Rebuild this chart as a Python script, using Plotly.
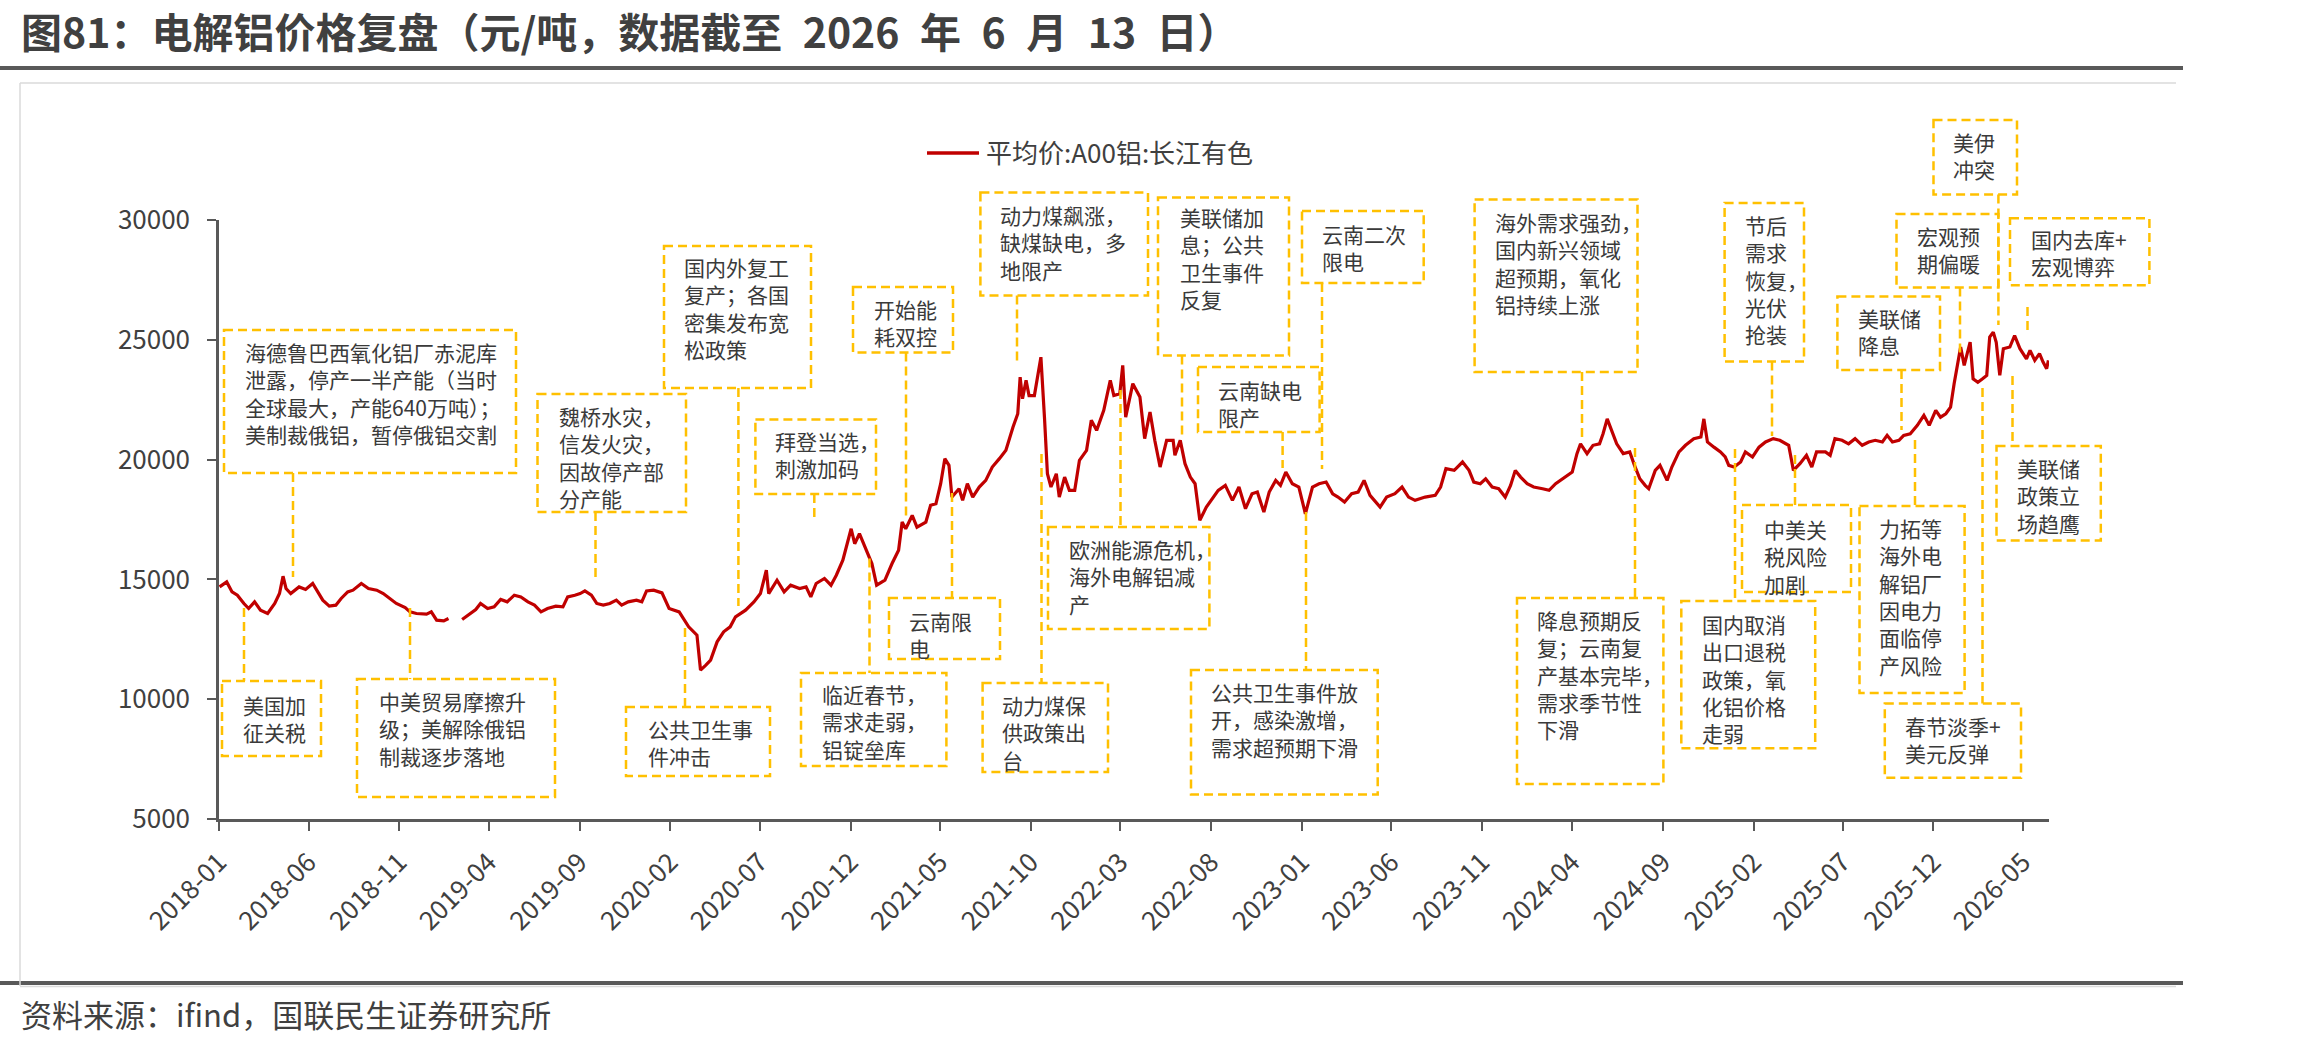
import plotly.graph_objects as go

# ---------------- data ----------------
dates = [
    "2018-01-02", "2018-01-14", "2018-01-23", "2018-02-01", "2018-02-12", "2018-02-20",
    "2018-03-02", "2018-03-12", "2018-03-24", "2018-04-05", "2018-04-13", "2018-04-19",
    "2018-04-24", "2018-05-02", "2018-05-16", "2018-05-27", "2018-06-08", "2018-06-16",
    "2018-06-25", "2018-07-06", "2018-07-17", "2018-07-26", "2018-08-06", "2018-08-15",
    "2018-08-29", "2018-09-10", "2018-09-24", "2018-10-05", "2018-10-16", "2018-10-27",
    "2018-11-11", "2018-11-19", "2018-11-30", "2018-12-17", "2018-12-25", "2019-01-03",
    "2019-01-15", "2019-01-23", "2019-02-04", "2019-02-15", "2019-03-01", "2019-03-10",
    "2019-03-18", "2019-03-30", "2019-04-10", "2019-04-21", "2019-05-02", "2019-05-14",
    "2019-05-25", "2019-06-06", "2019-06-17", "2019-06-28", "2019-07-09", "2019-07-23",
    "2019-08-04", "2019-08-12", "2019-08-24", "2019-09-02", "2019-09-10", "2019-09-21",
    "2019-09-30", "2019-10-11", "2019-10-22", "2019-11-02", "2019-11-11", "2019-11-22",
    "2019-12-06", "2019-12-15", "2019-12-23", "2020-01-04", "2020-01-18", "2020-01-30",
    "2020-02-16", "2020-03-03", "2020-03-17", "2020-03-23", "2020-04-01", "2020-04-09",
    "2020-04-20", "2020-05-01", "2020-05-12", "2020-05-21", "2020-06-07", "2020-06-21",
    "2020-07-02", "2020-07-12", "2020-07-16", "2020-07-30", "2020-08-11", "2020-08-22",
    "2020-09-06", "2020-09-17", "2020-09-25", "2020-10-04", "2020-10-18", "2020-10-29",
    "2020-11-07", "2020-11-18", "2020-12-02", "2020-12-08", "2020-12-16", "2020-12-28",
    "2021-01-06", "2021-01-14", "2021-01-28", "2021-02-09", "2021-02-20", "2021-02-26",
    "2021-03-04", "2021-03-15", "2021-03-23", "2021-04-07", "2021-04-15", "2021-04-24",
    "2021-05-02", "2021-05-09", "2021-05-16", "2021-05-21", "2021-06-02", "2021-06-08",
    "2021-06-16", "2021-06-25", "2021-07-06", "2021-07-17", "2021-07-28", "2021-08-09",
    "2021-08-20", "2021-09-01", "2021-09-09", "2021-09-13", "2021-09-17", "2021-09-23",
    "2021-09-28", "2021-10-07", "2021-10-12", "2021-10-18", "2021-10-24", "2021-10-29",
    "2021-11-04", "2021-11-13", "2021-11-18", "2021-11-27", "2021-12-05", "2021-12-14",
    "2021-12-22", "2022-01-03", "2022-01-11", "2022-01-20", "2022-02-01", "2022-02-12",
    "2022-02-18", "2022-02-28", "2022-03-05", "2022-03-10", "2022-03-22", "2022-04-03",
    "2022-04-11", "2022-04-20", "2022-04-28", "2022-05-07", "2022-05-18", "2022-05-29",
    "2022-06-01", "2022-06-10", "2022-06-18", "2022-06-27", "2022-07-05", "2022-07-13",
    "2022-07-24", "2022-08-05", "2022-08-13", "2022-08-25", "2022-09-06", "2022-09-17",
    "2022-09-28", "2022-10-09", "2022-10-18", "2022-10-29", "2022-11-07", "2022-11-18",
    "2022-11-26", "2022-12-05", "2022-12-16", "2022-12-27", "2023-01-07", "2023-01-19",
    "2023-01-30", "2023-02-11", "2023-02-22", "2023-03-03", "2023-03-14", "2023-03-26",
    "2023-04-06", "2023-04-16", "2023-04-26", "2023-05-13", "2023-05-24", "2023-06-07",
    "2023-06-19", "2023-06-30", "2023-07-11", "2023-07-28", "2023-08-14", "2023-08-23",
    "2023-09-01", "2023-09-15", "2023-09-29", "2023-10-10", "2023-10-18", "2023-10-29",
    "2023-11-07", "2023-11-18", "2023-11-29", "2023-12-10", "2023-12-19", "2023-12-27",
    "2024-01-05", "2024-01-16", "2024-01-27", "2024-02-11", "2024-02-22", "2024-03-04",
    "2024-03-20", "2024-04-01", "2024-04-09", "2024-04-15", "2024-04-26", "2024-05-06",
    "2024-05-17", "2024-05-23", "2024-05-30", "2024-06-06", "2024-06-15", "2024-06-26",
    "2024-07-07", "2024-07-15", "2024-07-24", "2024-08-02", "2024-08-08", "2024-08-19",
    "2024-08-27", "2024-09-08", "2024-09-16", "2024-09-28", "2024-10-09", "2024-10-23",
    "2024-11-04", "2024-11-09", "2024-11-15", "2024-11-26", "2024-12-07", "2024-12-15",
    "2024-12-21", "2024-12-30", "2025-01-10", "2025-01-18", "2025-01-30", "2025-02-10",
    "2025-02-21", "2025-03-06", "2025-03-17", "2025-04-01", "2025-04-09", "2025-04-20",
    "2025-05-01", "2025-05-10", "2025-05-18", "2025-06-02", "2025-06-10", "2025-06-18",
    "2025-06-30", "2025-07-11", "2025-07-22", "2025-08-03", "2025-08-14", "2025-08-25",
    "2025-09-06", "2025-09-14", "2025-09-23", "2025-10-04", "2025-10-12", "2025-10-23",
    "2025-11-04", "2025-11-15", "2025-11-24", "2025-12-05", "2025-12-13", "2025-12-22",
    "2025-12-30", "2026-01-05", "2026-01-11", "2026-01-16", "2026-01-22", "2026-02-01",
    "2026-02-06", "2026-02-14", "2026-02-22", "2026-03-01", "2026-03-06", "2026-03-12",
    "2026-03-17", "2026-03-23", "2026-03-29", "2026-04-09", "2026-04-17", "2026-04-26",
    "2026-05-07", "2026-05-13", "2026-05-21", "2026-05-29", "2026-06-04", "2026-06-10",
    "2026-06-13",
]

prices = [
    14687, 14896, 14479, 14340, 13995, 13786,
    14062, 13716, 13577, 13995, 14410, 15133,
    14621, 14410, 14687, 14580, 14830, 14479,
    14133, 13883, 13925, 14203, 14479, 14550,
    14830, 14621, 14550, 14410, 14203, 13995,
    13828, 13645, 13577, 13550, 13645, 13298,
    13270, 13370, None, 13326, 13577, 13745,
    13995, 13786, 13855, 14162, 14062, 14341,
    14270, 14062, 13925, 13645, 13786, 13883,
    13855, 14270, 14341, 14410, 14520, 14341,
    13995, 13925, 13995, 14133, 13925, 14062,
    14133, 14062, 14520, 14550, 14437, 13786,
    13645, 13020, 12673, 11213, 11422, 11630,
    12394, 12811, 13020, 13437, 13716, 14062,
    14410, 15382, 14410, 14967, 14479, 14758,
    14621, 14687, 14270, 14830, 15038, 14758,
    15175, 15800, 17114, 16490, 16907, 16218,
    15662, 14758, 14967, 15662, 16218, 17393,
    17114, 17670, 17183, 17393, 18093, 18160,
    18994, 20040, 19760, 18436, 18786, 18300,
    18994, 18436, 18856, 19133, 19690, 20040,
    20387, 21360, 21915, 23441, 22540, 23307,
    22674, 22674, 23441, 24275, 21770, 19410,
    18856, 19410, 18436, 19271, 18717, 18717,
    19968, 20387, 21638, 21220, 22055, 23307,
    22674, 22746, 23932, 21770, 23170, 22610,
    20875, 21985, 20805, 19690, 20805, 20805,
    20180, 20805, 19830, 19271, 18994, 17468,
    18020, 18436, 18717, 18925, 18300, 18856,
    17950, 18575, 18645, 17810, 18645, 19133,
    18925, 19480, 18994, 18856, 17740, 18856,
    18994, 19063, 18575, 18436, 18227, 18575,
    18645, 19133, 18508, 18020, 18436, 18575,
    18856, 18436, 18300, 18436, 18508, 18856,
    19620, 19550, 19900, 19550, 19063, 18994,
    19200, 18856, 18786, 18436, 18925, 19550,
    19271, 18994, 18856, 18786, 18717, 18994,
    19271, 19480, 20250, 20660, 20250, 20597,
    20660, 21080, 21700, 21220, 20660, 20250,
    20320, 19760, 19200, 18925, 18786, 19550,
    19760, 19133, 19690, 20320, 20597, 20875,
    20945, 21700, 20735, 20520, 20320, 20110,
    19760, 19690, 19900, 20320, 20110, 20520,
    20735, 20875, 20805, 20597, 19550, 19830,
    20180, 19690, 20320, 20320, 20180, 20875,
    20805, 20660, 20875, 20597, 20735, 20805,
    20735, 21013, 20735, 20805, 21013, 21080,
    21430, 21848, 21430, 22055, 21770, 21915,
    22190, 23170, 24070, 24700, 23932, 24900,
    23370, 23230, 23370, 23515, 25110, 25320,
    24900, 23515, 24630, 24700, 25180, 24630,
    24200, 24560, 24140, 24420, 24070, 23790,
    24140,
]

series_name = "平均价:A00铝:长江有色"

ytick_values = [5000, 10000, 15000, 20000, 25000, 30000]
xtick_labels = ["2018-01", "2018-06", "2018-11", "2019-04", "2019-09", "2020-02",
                "2020-07", "2020-12", "2021-05", "2021-10", "2022-03", "2022-08",
                "2023-01", "2023-06", "2023-11", "2024-04", "2024-09", "2025-02",
                "2025-07", "2025-12", "2026-05"]

title_text = "图81：电解铝价格复盘（元/吨，数据截至\u20022026\u2002年\u20026\u2002月\u200213\u2002日）"
source_text = "资料来源：ifind，国联民生证券研究所"

event_texts = [
    ["海德鲁巴西氧化铝厂赤泥库", "泄露，停产一半产能（当时", "全球最大，产能640万吨）；", "美制裁俄铝，暂停俄铝交割"],
    ["美国加", "征关税"],
    ["中美贸易摩擦升", "级；美解除俄铝", "制裁逐步落地"],
    ["魏桥水灾，", "信发火灾，", "因故停产部", "分产能"],
    ["国内外复工", "复产；各国", "密集发布宽", "松政策"],
    ["公共卫生事", "件冲击"],
    ["拜登当选，", "刺激加码"],
    ["开始能", "耗双控"],
    ["临近春节，", "需求走弱，", "铝锭垒库"],
    ["云南限", "电"],
    ["动力煤飙涨，", "缺煤缺电，多", "地限产"],
    ["动力煤保", "供政策出", "台"],
    ["欧洲能源危机，", "海外电解铝减", "产"],
    ["美联储加", "息；公共", "卫生事件", "反复"],
    ["云南缺电", "限产"],
    ["云南二次", "限电"],
    ["公共卫生事件放", "开，感染激增，", "需求超预期下滑"],
    ["海外需求强劲，", "国内新兴领域", "超预期，氧化", "铝持续上涨"],
    ["降息预期反", "复；云南复", "产基本完毕，", "需求季节性", "下滑"],
    ["节后", "需求", "恢复，", "光伏", "抢装"],
    ["国内取消", "出口退税", "政策，氧", "化铝价格", "走弱"],
    ["中美关", "税风险", "加剧"],
    ["美联储", "降息"],
    ["力拓等", "海外电", "解铝厂", "因电力", "面临停", "产风险"],
    ["宏观预", "期偏暖"],
    ["美伊", "冲突"],
    ["国内去库+", "宏观博弈"],
    ["美联储", "政策立", "场趋鹰"],
    ["春节淡季+", "美元反弹"],
]

# ---------------- layout of the annotation boxes (page pixels) ----------------
# box: (x0, y0, x1, y1), text anchor: (left, first-line centre), connector: (x, y_from, y_to)
box_layout = [
    ((224, 330, 516, 473), (244, 352), (293, 473, 577)),
    ((222, 681, 321, 756), (242, 705), (244, 608, 681)),
    ((357, 679, 555, 797), (378, 701.5), (410, 608, 679)),
    ((537.5, 394, 686, 512), (557.6, 416.4), (595.5, 512, 580)),
    ((664, 246, 811, 388), (682.6, 267.8), (738.4, 388, 606)),
    ((626, 707, 770, 776), (647, 729.6), (685, 628, 707)),
    ((755.4, 419.4, 876, 494), (774, 441.3), (814.3, 494, 522)),
    ((853, 287, 953, 352.5), (873, 309), (906, 352.5, 517)),
    ((801, 673, 946.4, 766), (821, 694.6), (869.5, 558.5, 673)),
    ((889, 598, 1000, 659), (908, 621), (952, 493, 598)),
    ((980.4, 192.6, 1148, 295.5), (998.7, 216), (1017, 295.5, 365)),
    ((982.6, 683, 1108, 772), (1001, 705), (1041.5, 454, 683)),
    ((1048, 527, 1209.4, 629), (1068, 549), (1120.5, 390, 527)),
    ((1158, 197.5, 1289, 355.4), (1179, 218), (1182, 355.4, 437)),
    ((1198, 367, 1319.6, 432), (1217, 390), (1282.6, 432, 468)),
    ((1302, 211, 1423.7, 283), (1321, 234.7), (1322, 283, 469)),
    ((1191, 670, 1377.7, 794.6), (1210, 692), (1306, 512, 670)),
    ((1474.6, 199.6, 1637.5, 372), (1494, 222.3), (1582, 372, 440)),
    ((1517, 598, 1663.4, 784), (1536, 620), (1635, 448, 598)),
    ((1724.6, 203, 1804, 361.6), (1744, 225.6), (1772, 361.6, 436)),
    ((1681.3, 601, 1815.2, 748.3), (1701, 624), (1735, 449, 601)),
    ((1742, 505, 1851, 592), (1763, 529.5), (1795, 455, 505)),
    ((1837.4, 296.4, 1940, 370), (1857, 318.8), (1901.5, 370, 430)),
    ((1859.5, 506, 1964.6, 693), (1878, 528.6), (1915, 440, 506)),
    ((1896.5, 214, 1998.4, 287.5), (1916, 236.2), (1960, 287.5, 357)),
    ((1933.5, 120, 2017, 194.6), (1952, 142.4), (1998.4, 194.6, 325)),
    ((2010, 218.3, 2149.4, 285.3), (2030, 239.3), (2027.5, 307, 335)),
    ((1996.5, 446, 2100.8, 540.6), (2016, 468.3), (2012.5, 376, 446)),
    ((1884.8, 703.6, 2021, 777.7), (1904, 726), (1982.5, 388, 703.6)),
]

# ---------------- figure geometry ----------------
W, H = 2310, 1045
ML, MR, MT, MB = 219, 261, 220, 226
PW = W - ML - MR
PH = H - MT - MB


def px(x):
    return (x - ML) / PW


def py(y):
    return (H - MB - y) / PH


FONT = "Microsoft YaHei, Noto Sans CJK SC, sans-serif"
GOLD = "#FFC000"
DASH = "9px,5px"
AXIS = "#595959"
TXT = "#3A3A3A"
ANN_SIZE = 21

fig = go.Figure()
fig.add_trace(go.Scatter(
    x=dates, y=prices, mode="lines", name=series_name,
    line=dict(color="#C00000", width=3.2), connectgaps=False,
    showlegend=False,
))

shapes = []
annotations = []

# frame / separators
shapes.append(dict(type="line", xref="paper", yref="paper", x0=px(0), x1=px(2183), y0=py(68), y1=py(68),
                   line=dict(color=AXIS, width=4)))
shapes.append(dict(type="line", xref="paper", yref="paper", x0=px(0), x1=px(2183), y0=py(983), y1=py(983),
                   line=dict(color=AXIS, width=4)))
shapes.append(dict(type="line", xref="paper", yref="paper", x0=px(20), x1=px(2176), y0=py(83), y1=py(83),
                   line=dict(color="#DADADA", width=1.5)))
shapes.append(dict(type="line", xref="paper", yref="paper", x0=px(20), x1=px(20), y0=py(83), y1=py(986),
                   line=dict(color="#DADADA", width=1.5)))
shapes.append(dict(type="line", xref="paper", yref="paper", x0=px(20), x1=px(2176), y0=py(986.5), y1=py(986.5),
                   line=dict(color="#DADADA", width=1.5)))

# legend (drawn manually)
shapes.append(dict(type="line", xref="paper", yref="paper", x0=px(927), x1=px(979), y0=py(153), y1=py(153),
                   line=dict(color="#C00000", width=3.5)))
annotations.append(dict(xref="paper", yref="paper", x=px(984), y=py(151), xanchor="left", yanchor="middle",
                        text=series_name, showarrow=False, font=dict(family=FONT, size=26, color="#404040")))

# event boxes, texts, connectors
for lines, (box, (tx, ty), (cx, cy0, cy1)) in zip(event_texts, box_layout):
    x0, y0, x1, y1 = box
    shapes.append(dict(type="rect", xref="paper", yref="paper", x0=px(x0), x1=px(x1), y0=py(y0), y1=py(y1),
                       line=dict(color=GOLD, width=2.5, dash=DASH), fillcolor="rgba(0,0,0,0)", layer="above"))
    shapes.append(dict(type="line", xref="paper", yref="paper", x0=px(cx), x1=px(cx), y0=py(cy0), y1=py(cy1),
                       line=dict(color=GOLD, width=2.5, dash=DASH), layer="above"))
    annotations.append(dict(xref="paper", yref="paper", x=px(tx - 1), y=py(ty - 17.5),
                            xanchor="left", yanchor="top", align="left", showarrow=False,
                            text="<br>".join(lines), font=dict(family=FONT, size=ANN_SIZE, color=TXT)))

# title and source
annotations.append(dict(xref="paper", yref="paper", x=px(19), y=py(30), xanchor="left", yanchor="middle",
                        text="<b>" + title_text + "</b>", showarrow=False,
                        font=dict(family=FONT, size=41, color="#404040")))
annotations.append(dict(xref="paper", yref="paper", x=px(19), y=py(1013), xanchor="left", yanchor="middle",
                        text=source_text, showarrow=False,
                        font=dict(family=FONT, size=31, color="#404040")))

fig.update_layout(
    width=W, height=H,
    margin=dict(l=ML, r=MR, t=MT, b=MB, pad=0),
    paper_bgcolor="white", plot_bgcolor="white",
    font=dict(family=FONT, color=AXIS),
    shapes=shapes, annotations=annotations,
    xaxis=dict(
        type="date", range=["2018-01-01", "2026-06-14"],
        tickvals=[t + "-01" for t in xtick_labels], ticktext=xtick_labels,
        tickangle=-45, ticks="outside", ticklen=9, tickwidth=2, tickcolor=AXIS,
        showline=True, linecolor=AXIS, linewidth=2.5, showgrid=False, zeroline=False,
        tickfont=dict(family=FONT, size=26, color="#404040"), ticklabelstandoff=6,
    ),
    yaxis=dict(
        range=[5000, 30000], tickvals=ytick_values, ticktext=[str(v) for v in ytick_values],
        ticks="outside", ticklen=9, tickwidth=2, tickcolor=AXIS,
        showline=True, linecolor=AXIS, linewidth=2.5, showgrid=False, zeroline=False,
        tickfont=dict(family=FONT, size=26, color="#404040"), ticklabelstandoff=12,
    ),
)

fig.write_html("out.html")
